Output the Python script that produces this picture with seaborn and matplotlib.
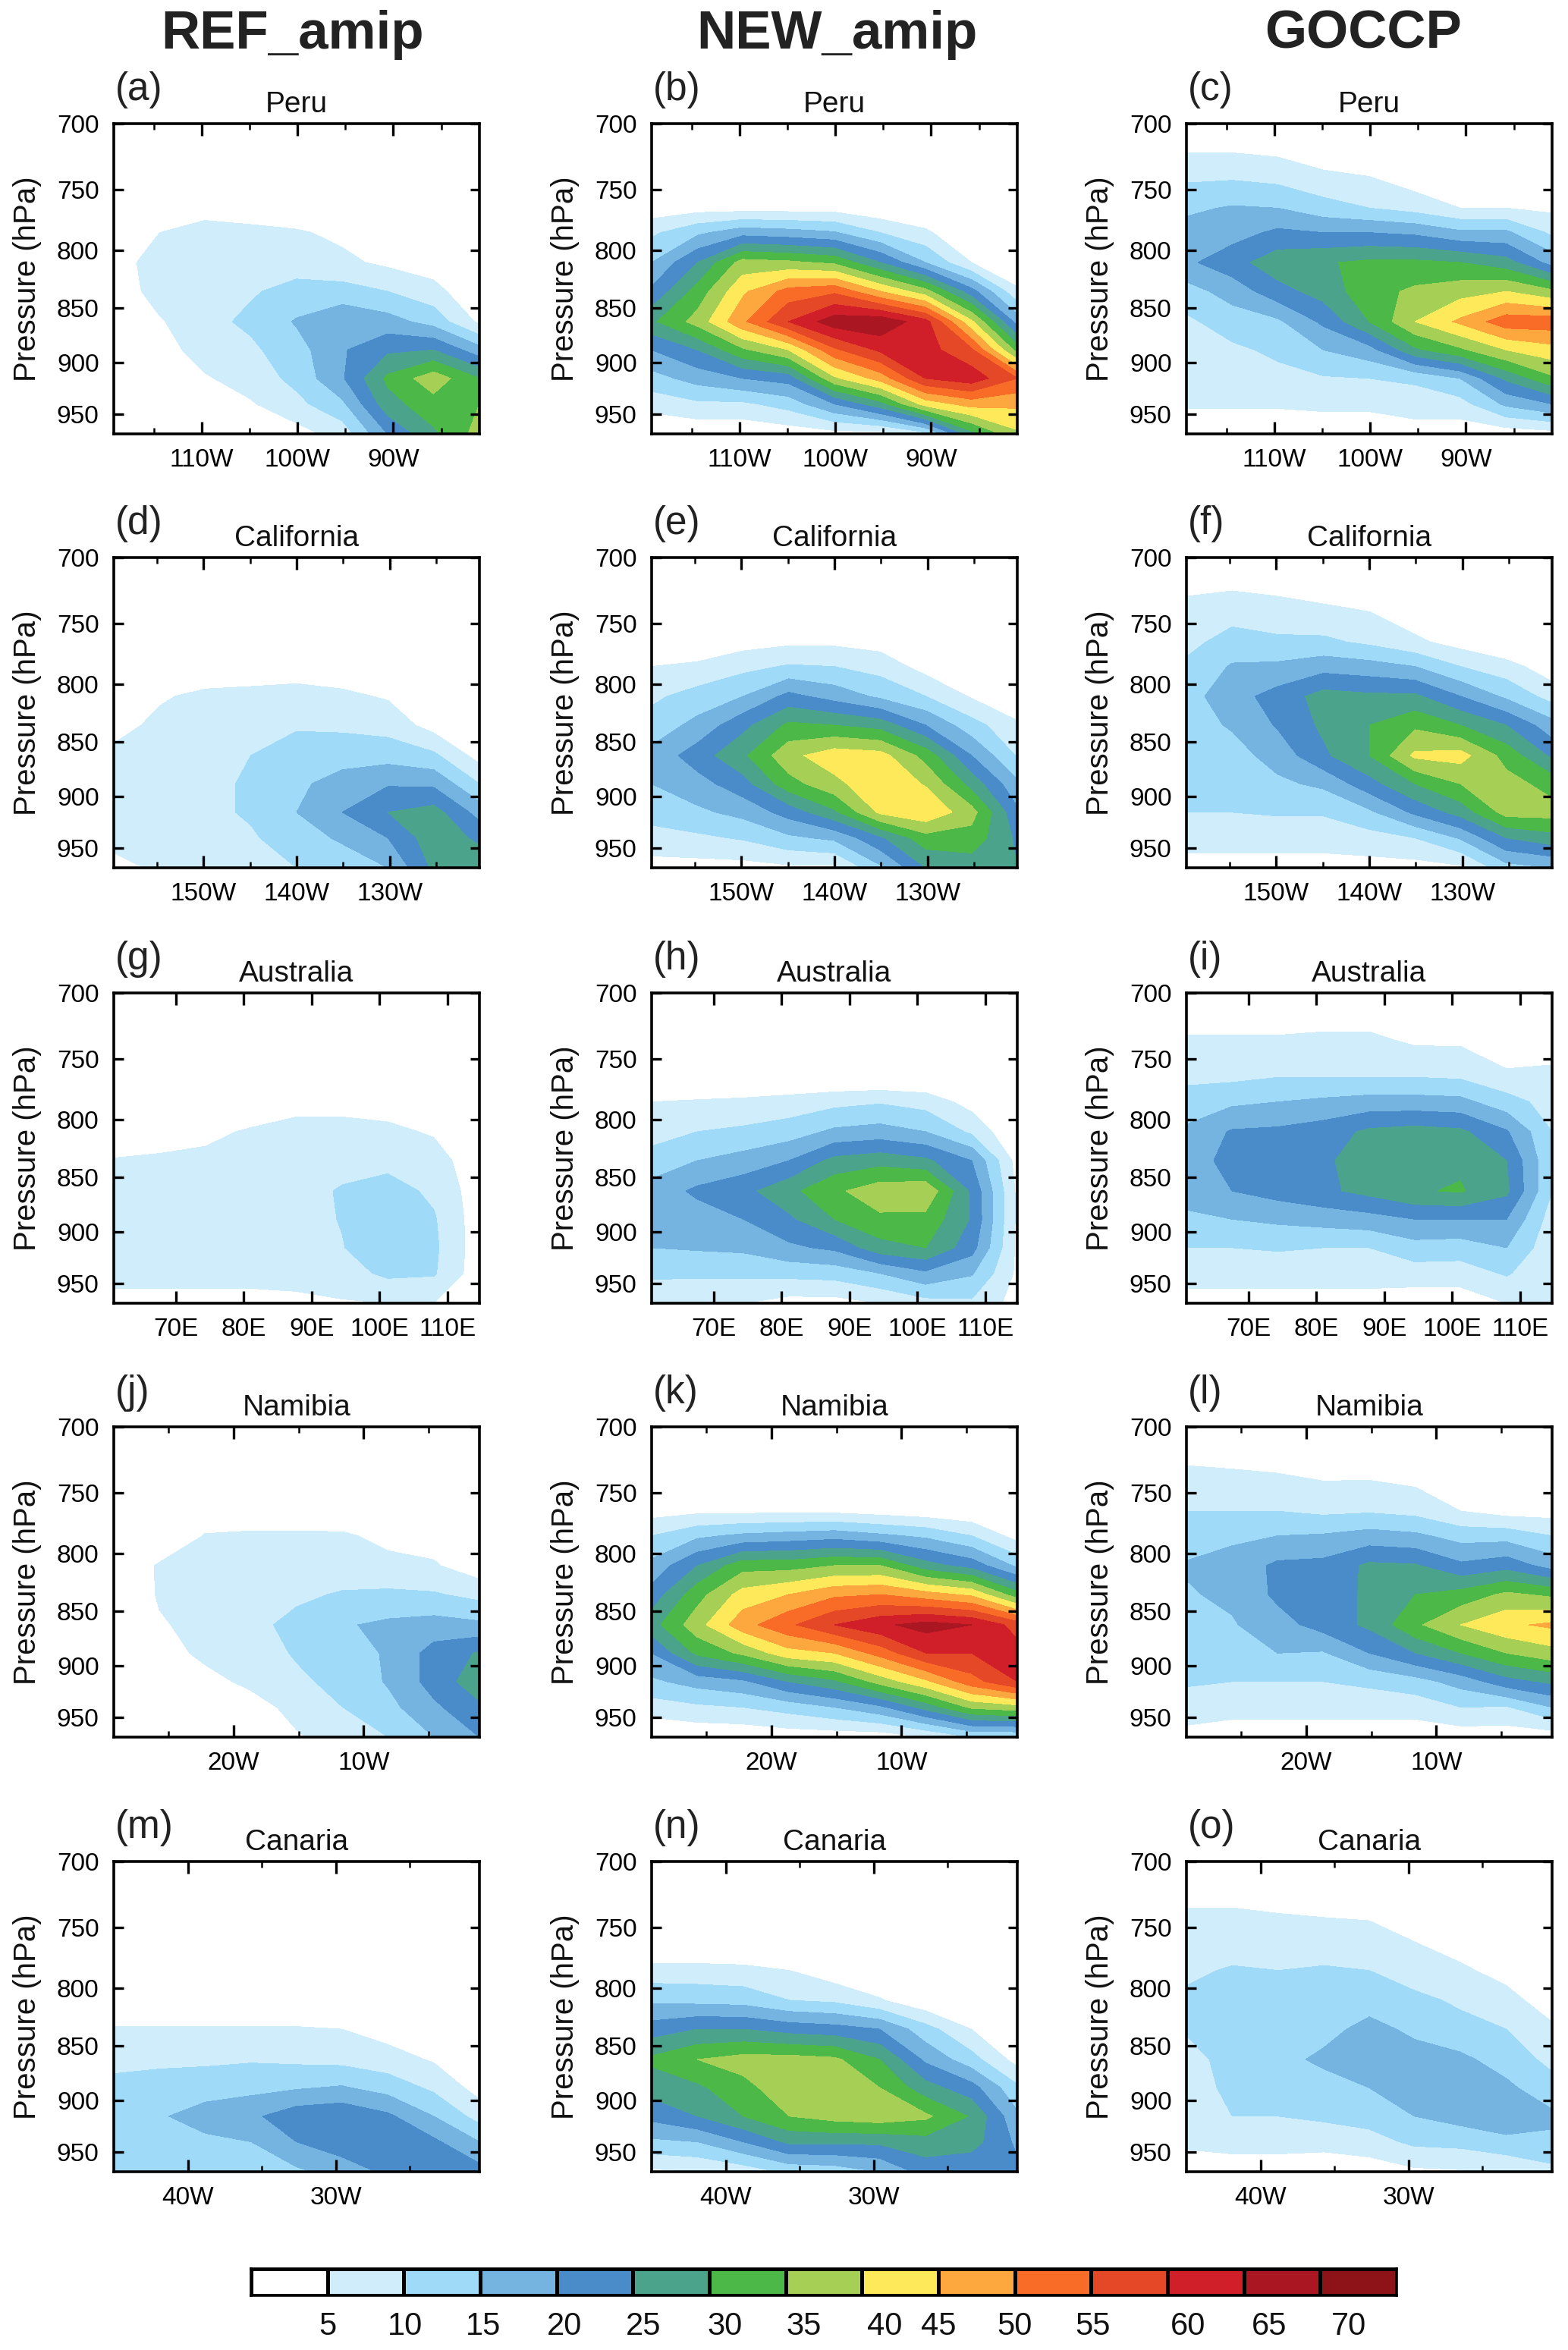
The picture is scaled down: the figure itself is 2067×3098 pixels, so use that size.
import numpy as np
import seaborn as sns
import matplotlib.pyplot as plt
from matplotlib.colors import ListedColormap
from matplotlib.ticker import NullLocator

# pressure levels of the grid (hPa)
pressure = [700, 735, 765, 785, 810, 835, 862, 888, 915, 940, 970]
pressure_ticks = [700, 750, 800, 850, 900, 950]

# longitudes per region (west negative)
lon_peru = [-119.2, -114.4, -109.7, -104.9, -100.1, -95.3, -90.6, -85.8, -81.0]
lon_california = [-159.6, -154.7, -149.8, -144.9, -140.0, -135.1, -130.2, -125.3, -120.4]
lon_australia = [60.9, 67.6, 74.4, 81.1, 87.8, 94.5, 101.2, 108.0, 114.7]
lon_namibia = [-29.2, -25.7, -22.2, -18.7, -15.15, -11.6, -8.1, -4.6, -1.1]
lon_canaria = [-45.0, -41.9, -38.8, -35.7, -32.65, -29.6, -26.5, -23.4, -20.3]

# cloud fraction (%), one list per longitude, top to bottom
ref_peru = [
    [0, 0, 0, 1, 3, 2, 1, 0, 0, 0, 0],
    [0, 0, 2, 5, 7, 7, 4.5, 3, 1, 0, 0],
    [0, 0, 4, 6, 8, 8.5, 8.5, 7, 4.5, 2, 0],
    [0, 0, 3, 6, 8, 9.5, 11, 9, 7, 4.5, 1],
    [0, 0, 2, 5.5, 8, 11.5, 15.5, 13, 11.5, 8.5, 3],
    [0, 0, 0, 4, 6, 12, 19, 19.5, 19.5, 14, 7],
    [0, 0, 0, 0, 4, 10, 17, 24, 31, 28, 20],
    [0, 0, 0, 0, 2, 7, 13, 25, 38, 33, 29],
    [0, 0, 0, 0, 0, 0, 4, 17, 30, 35, 37],
]
new_peru = [
    [0, 0, 2, 9, 15, 21, 29, 20, 13, 7, 0],
    [0, 0, 3, 14, 25, 32, 37, 25, 17, 9, 1],
    [0, 0, 3, 18, 37, 44, 49, 34, 20, 9, 1],
    [0, 0, 3, 17, 36, 52, 60, 40, 22, 12, 2],
    [0, 0, 3, 15.5, 34, 54, 68, 54, 39, 20, 3],
    [0, 0, 1, 10, 25, 45, 69, 61, 47, 28, 3],
    [0, 0, 0, 6, 15, 37, 62, 62, 60, 42, 8],
    [0, 0, 0, 0, 5, 22, 41, 56, 63, 47, 28],
    [0, 0, 0, 0, 0, 6, 18, 33, 55, 46, 39],
]
goccp_peru = [
    [0, 8, 14, 17, 19, 13, 9, 8, 7, 5.5, 2],
    [0, 8, 15.5, 18, 23, 17, 12.5, 9, 7.5, 5.5, 2],
    [0, 7, 15, 21, 28, 23, 14, 11, 8.5, 5.5, 2],
    [0, 5, 12, 20, 29.5, 27, 21, 15, 9.5, 6, 2],
    [0, 4, 10, 20, 31, 33, 30, 18, 10, 6, 2],
    [0, 1, 8, 19, 31, 36, 40, 29, 11, 7, 3],
    [0, 0, 5, 16, 30, 38, 46, 34, 15, 8, 2],
    [0, 0, 5, 16, 27, 40, 53, 40, 26, 16, 2],
    [0, 0, 4, 9, 18, 36, 53, 43, 34, 20, 3],
]
ref_california = [
    [0, 0, 0, 0, 0, 3.5, 6, 7, 7, 6, 4],
    [0, 0, 0, 0, 4.5, 6, 7, 8, 8, 7, 5.5],
    [0, 0, 0, 2, 6, 7.5, 8.5, 9, 9, 8, 7],
    [0, 0, 0, 3, 6, 8, 10, 10.5, 10.5, 9.5, 8],
    [0, 0, 0, 3, 6.5, 9.5, 12, 14, 15, 12, 10],
    [0, 0, 0, 2, 6, 9, 13, 17, 20, 16, 11],
    [0, 0, 0, 0, 4.5, 8, 13, 19.5, 25, 20, 15],
    [0, 0, 0, 0, 0, 3, 11, 19, 27, 28, 26],
    [0, 0, 0, 0, 0, 0, 3, 10, 18, 24, 28],
]
new_california = [
    [0, 0, 0, 5, 9, 12, 16.5, 15, 12, 8, 3],
    [0, 0, 1, 6, 12, 16.5, 22.5, 18, 14, 9, 3],
    [0, 0, 3, 8.5, 15, 23.5, 29, 23, 16.5, 10.5, 3],
    [0, 0, 4, 10.5, 21.5, 31, 38.5, 33, 22, 14, 4],
    [0, 0, 4, 10, 18, 30, 43, 38.5, 29, 16, 4],
    [0, 0, 3, 8, 14, 28, 42, 44, 41, 24, 14],
    [0, 0, 0, 3, 10, 20, 33, 39.5, 44, 33, 25],
    [0, 0, 0, 0, 4.5, 12, 20, 28, 37, 33, 27],
    [0, 0, 0, 0, 0, 6, 9.5, 16, 21, 24, 25],
]
goccp_california = [
    [0, 6, 8.5, 11, 13, 13, 12, 11, 10, 7, 3],
    [0, 7, 12, 15.5, 18, 15.5, 13, 12, 10, 7, 3],
    [0, 6, 11, 16, 22, 20.5, 17, 14, 10.5, 7, 3],
    [0, 5, 11, 18, 27, 26, 24, 16, 10.5, 7, 3],
    [0, 4, 9, 17, 26, 30, 30, 23, 14, 8, 3],
    [0, 1, 6, 15, 26, 34, 41, 30, 21, 10, 3],
    [0, 0, 3, 10, 20, 30, 42, 35, 27, 15.5, 4],
    [0, 0, 0, 7, 14, 25, 33, 37, 37, 25, 13],
    [0, 0, 0, 2, 8, 17, 24, 33, 37, 28, 15],
]
ref_australia = [
    [0, 0, 0, 0, 3, 5.2, 6, 6, 6, 5.5, 4.5],
    [0, 0, 0, 0, 3.5, 5.5, 6, 6.5, 6.5, 6, 4],
    [0, 0, 0, 0, 4, 6, 6.5, 7, 7, 6, 4],
    [0, 0, 0, 2, 5.5, 6.5, 7, 7.5, 7.5, 6, 4],
    [0, 0, 0, 4, 6, 7, 8, 8.5, 8, 6.5, 4],
    [0, 0, 0, 4, 6, 8, 10.5, 10.2, 9.8, 8, 4.5],
    [0, 0, 0, 3, 6, 8.5, 12, 13, 13, 11, 5],
    [0, 0, 0, 0, 4.5, 7, 9, 10.5, 11, 10.5, 5],
    [0, 0, 0, 0, 0, 2, 2.2, 2.2, 2.2, 2, 2],
]
new_australia = [
    [0, 0, 0, 5, 8, 12, 17, 16, 15, 11, 6],
    [0, 0, 0, 5.5, 10, 15, 21, 17.5, 15.5, 11, 5],
    [0, 0, 0, 6, 11, 17, 23.5, 20, 16, 11, 5],
    [0, 0, 0, 7, 12.5, 20, 28.5, 24, 19, 11.5, 3],
    [0, 0, 0, 8.5, 16, 26.5, 34, 30, 21, 12, 3],
    [0, 0, 0, 9.5, 17, 28, 38, 34, 28, 15, 5],
    [0, 0, 0, 8, 15, 26, 39, 33.5, 30, 19, 8],
    [0, 0, 0, 3, 9, 20, 24, 24.5, 22, 15.5, 9],
    [0, 0, 0, 0, 0, 3, 4, 4, 4, 4, 3],
]
goccp_australia = [
    [0, 5.5, 9, 12, 16, 17, 17, 14, 10, 7, 3],
    [0, 5.5, 9, 14, 20.5, 22, 20, 15, 10, 7, 3],
    [0, 5.5, 10, 15, 21, 23, 22, 16, 10.5, 7, 3],
    [0, 6, 10, 16, 22.5, 24.5, 24, 17, 10, 7, 3],
    [0, 6, 10, 17, 26, 26.5, 26.5, 18, 10, 7, 3],
    [0, 4, 10, 17, 27, 28, 29.5, 20, 13, 7.5, 2],
    [0, 4, 9.5, 16.5, 26, 29, 30.5, 20, 12.5, 7.5, 2],
    [0, 0, 6.5, 12, 20.5, 25, 26, 20, 15, 10.5, 5],
    [0, 3, 6, 8, 10, 10.5, 10, 7.5, 6.5, 6, 5.5],
]
ref_namibia = [
    [0, 0, 0, 0, 1, 0, 0, 0, 0, 0, 0],
    [0, 0, 0, 1, 5.5, 5.5, 4.5, 3, 0, 0, 0],
    [0, 0, 3, 5.2, 6.5, 7, 6.5, 6, 3.5, 0, 0],
    [0, 0, 3, 5.5, 7, 8, 8.5, 7.5, 6, 3, 0],
    [0, 0, 3, 5.5, 7, 9, 11.5, 10.5, 9, 6.5, 4.5],
    [0, 0, 2.5, 5.5, 7, 10.5, 14.5, 13, 11.5, 10, 7],
    [0, 0, 0, 4, 6, 11, 16, 15.5, 15.5, 13.5, 10],
    [0, 0, 0, 3, 5.5, 10.5, 17, 22, 22, 19, 15],
    [0, 0, 0, 0, 2, 8.5, 16, 25.5, 28, 24, 20],
]
new_namibia = [
    [0, 0, 3, 10, 16.5, 22, 28, 20, 14, 7.5, 0],
    [0, 0, 4, 14, 25, 33, 38, 31, 17, 9, 1],
    [0, 0, 4, 16, 33, 42, 48, 36, 19, 10, 1],
    [0, 0, 4, 17, 33, 45, 54, 43, 25, 12, 2],
    [0, 0, 4, 18, 35, 49, 60, 45, 29, 15, 2],
    [0, 0, 3, 16, 35, 50, 64, 52, 37, 19, 2],
    [0, 0, 2, 14, 27, 47, 67, 60, 44, 27, 5],
    [0, 0, 1, 10, 23, 44, 65, 60, 53, 36, 10],
    [0, 0, 0, 3, 14, 32, 58, 62, 60, 38, 10],
]
goccp_namibia = [
    [0, 6, 10, 12.5, 15.5, 14.5, 13, 12, 10.5, 8, 3],
    [0, 5.5, 10, 14, 17, 16, 14.5, 12.5, 10, 7, 2],
    [0, 5, 10, 15, 21, 21, 18, 15, 10, 7, 2],
    [0, 4, 9, 15.5, 21.5, 22, 22, 14.5, 10, 7, 2],
    [0, 4, 9.5, 17, 26, 26, 26, 20, 11, 7, 2],
    [0, 3, 8.5, 16, 25.5, 30, 34, 25, 13, 7, 2],
    [0, 0, 5, 13, 21, 32, 40, 30, 17, 10, 2],
    [0, 0, 3, 13, 23, 36, 44, 35, 23, 9.5, 2],
    [0, 0, 3, 10, 18, 34, 46, 38, 26, 15, 2],
]
ref_canaria = [
    [0, 0, 0, 0, 0, 5.5, 8.5, 11.5, 13, 12, 10],
    [0, 0, 0, 0, 0, 5.5, 9, 12, 14.5, 12.5, 11],
    [0, 0, 0, 0, 0, 5.5, 9, 13, 17, 14, 11.5],
    [0, 0, 0, 0, 0, 5.5, 9.5, 13.5, 19, 15, 12.5],
    [0, 0, 0, 0, 0, 5.5, 9, 14.5, 23, 20, 14],
    [0, 0, 0, 0, 0, 5, 8.5, 15.5, 24, 23, 17],
    [0, 0, 0, 0, 0, 3, 7, 13, 21, 24, 21],
    [0, 0, 0, 0, 0, 0, 4.5, 9, 15, 21, 24],
    [0, 0, 0, 0, 0, 0, 0, 3, 8, 15, 22],
]
new_canaria = [
    [0, 0, 0, 7, 14, 22.5, 31, 27, 21.5, 14, 4],
    [0, 0, 0, 7, 13.5, 25, 35, 29, 25, 15, 5],
    [0, 0, 0, 6.5, 13, 25, 37, 33.5, 30, 20, 7],
    [0, 0, 0, 5, 10, 23, 37, 38, 35, 26, 11],
    [0, 0, 0, 2, 9, 22, 36, 38, 37, 26, 12],
    [0, 0, 0, 0, 5.5, 20, 30, 35, 38, 26, 15],
    [0, 0, 0, 0, 1, 12, 19, 27, 36, 28, 22],
    [0, 0, 0, 0, 0, 5, 12, 22, 29.5, 27, 21],
    [0, 0, 0, 0, 0, 0, 3, 11, 16, 19, 21],
]
goccp_canaria = [
    [0, 5, 7, 9, 11, 10.5, 8, 8, 8, 6, 2],
    [0, 5, 8, 10.5, 12, 12, 12, 11, 10, 7, 2],
    [0, 4.5, 8, 10, 12, 13, 13.5, 12, 10, 7, 2],
    [0, 4, 8, 10.5, 12, 13.5, 16, 13, 11, 6.5, 2],
    [0, 4, 7, 10, 13, 16.5, 18, 15, 12, 8, 2],
    [0, 1, 5.5, 7, 11.5, 14, 17, 17, 15, 11, 4],
    [0, 0, 3, 6, 9, 12, 16, 17.5, 17, 11.5, 4.5],
    [0, 0, 0, 3, 7, 10, 13, 16, 20, 13, 6],
    [0, 0, 0, 0, 2, 6, 8.5, 12, 16, 14, 8.5],
]

columns = ["REF_amip", "NEW_amip", "GOCCP"]
regions = ["Peru", "California", "Australia", "Namibia", "Canaria"]
panel_letters = "abcdefghijklmno"
grids = [
    [ref_peru, new_peru, goccp_peru],
    [ref_california, new_california, goccp_california],
    [ref_australia, new_australia, goccp_australia],
    [ref_namibia, new_namibia, goccp_namibia],
    [ref_canaria, new_canaria, goccp_canaria],
]
lons = [lon_peru, lon_california, lon_australia, lon_namibia, lon_canaria]
major_ticks = [[-110, -100, -90], [-150, -140, -130], [70, 80, 90, 100, 110], [-20, -10], [-40, -30]]
major_labels = [["110W", "100W", "90W"], ["150W", "140W", "130W"],
                ["70E", "80E", "90E", "100E", "110E"], ["20W", "10W"], ["40W", "30W"]]
minor_ticks = [[-115, -105, -95, -85], [-155, -145, -135, -125], [], [-25, -15, -5], [-35, -25]]

level_edges = [0, 5, 10, 15, 20, 25, 30, 35, 40, 45, 50, 55, 60, 65, 70, 100]
bar_labels = ["5", "10", "15", "20", "25", "30", "35", "40", "45", "50", "55", "60", "65", "70"]
bar_label_pos = [1.0, 2.02, 3.04, 4.1, 5.14, 6.2, 7.24, 8.3, 9.0, 10.0, 11.02, 12.27, 13.33, 14.37]
palette = sns.color_palette(["#FFFFFF", "#D0EDFB", "#9FDAF8", "#75B3E1", "#4A8CCA",
                             "#4AA38A", "#4CB848", "#A6D055", "#FDE95A", "#FCA83F",
                             "#F96C28", "#E54826", "#D11F2A", "#AA1621", "#8D1318"])

sns.set_theme(style="ticks")
plt.rcParams["font.family"] = ["Liberation Sans", "DejaVu Sans"]

W, H = 2067, 3098
fig = plt.figure(figsize=(W / 100, H / 100), dpi=100, facecolor="white")

# panel placement in pixels
lefts = [150, 859, 1564]
tops = [163, 735, 1309, 1881, 2454]
ax_w, ax_h = 482, 409

k = 0
for r, region in enumerate(regions):
    for c in range(3):
        ax = fig.add_axes([lefts[c] / W, 1 - (tops[r] + ax_h) / H, ax_w / W, ax_h / H])
        ax.set_facecolor("white")
        ax.set_axisbelow(False)  # seaborn puts ticks under the filled contours otherwise
        z = np.array(grids[r][c]).T
        ax.contourf(lons[r], pressure, z, levels=level_edges, colors=palette)
        ax.set_yscale("log")
        ax.set_ylim(970, 700)
        ax.set_xlim(lons[r][0], lons[r][-1])
        ax.set_yticks(pressure_ticks)
        ax.set_yticklabels([str(p) for p in pressure_ticks])
        ax.yaxis.set_minor_locator(NullLocator())
        ax.set_xticks(major_ticks[r])
        ax.set_xticklabels(major_labels[r])
        ax.set_xticks(minor_ticks[r], minor=True)
        ax.tick_params(axis="x", which="major", direction="in", top=True, bottom=True,
                       length=11.5, width=2.4, labelsize=24, pad=14, color="black", labelcolor="black")
        ax.tick_params(axis="x", which="minor", direction="in", top=True, bottom=True,
                       length=6, width=1.8, color="black")
        ax.tick_params(axis="y", which="major", direction="in", left=True, right=True,
                       length=9, width=2.4, labelsize=24, pad=14, color="black", labelcolor="black")
        for sp in ax.spines.values():
            sp.set_visible(True)
            sp.set_linewidth(2.6)
            sp.set_color("black")
        ax.set_ylabel("Pressure (hPa)", fontsize=29, color="#111111")
        ax.yaxis.set_label_coords(-0.197, 0.5)
        ax.set_title(region, fontsize=28, pad=11, color="#111111")
        ax.text(0.003, 1.11, "(%s)" % panel_letters[k], transform=ax.transAxes,
                fontsize=37, ha="left", va="center", color="#222222")
        k += 1

# column headers
header_x = [386, 1103, 1797]
for name, x in zip(columns, header_x):
    fig.text(x / W, 1 - 46 / H, name, fontsize=51, fontweight="bold", ha="center", va="center", color="#222222")

# colour bar as a one-row heatmap
cax = fig.add_axes([331 / W, 1 - 3026 / H, 1510 / W, 35 / H])
bar_cmap = ListedColormap(palette)
sns.heatmap(np.arange(15).reshape(1, 15), cmap=bar_cmap, cbar=False, linewidths=2.5, linecolor="black",
            xticklabels=False, yticklabels=False, ax=cax)
for sp in cax.spines.values():
    sp.set_visible(True)
    sp.set_linewidth(2.6)
    sp.set_color("black")
for lab, pos in zip(bar_labels, bar_label_pos):
    cax.text(pos, 2.17, lab, fontsize=30, ha="center", va="center", color="#111111", clip_on=False)

fig.savefig("out.png", dpi=100)
